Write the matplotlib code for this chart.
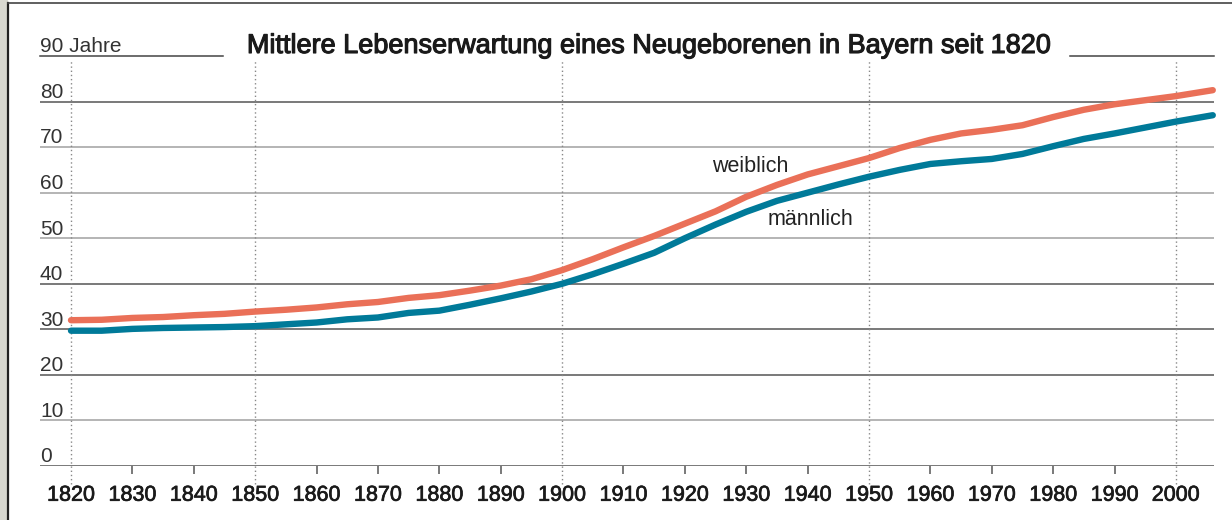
import matplotlib
matplotlib.use("Agg")
import matplotlib.pyplot as plt
from matplotlib.lines import Line2D
from matplotlib.patches import Rectangle
import matplotlib.transforms as mtransforms
import matplotlib.patheffects as pe

plt.rcParams['font.family'] = ['Liberation Sans', 'DejaVu Sans']

# data
years = [1820, 1825, 1830, 1835, 1840, 1845, 1850, 1855, 1860, 1865,
         1870, 1875, 1880, 1885, 1890, 1895, 1900, 1905, 1910, 1915,
         1920, 1925, 1930, 1935, 1940, 1945, 1950, 1955, 1960, 1965,
         1970, 1975, 1980, 1985, 1990, 1995, 2000, 2006]
weiblich = [32.0, 32.1, 32.5, 32.7, 33.1, 33.4, 33.9, 34.3, 34.8, 35.5,
            36.0, 36.9, 37.5, 38.5, 39.6, 41.0, 43.0, 45.4, 48.0, 50.5,
            53.2, 55.9, 59.1, 61.7, 64.0, 65.8, 67.6, 69.8, 71.6, 73.0,
            73.8, 74.8, 76.6, 78.2, 79.4, 80.3, 81.2, 82.5]
maennlich = [29.7, 29.7, 30.1, 30.3, 30.4, 30.5, 30.7, 31.1, 31.5, 32.2,
             32.6, 33.6, 34.1, 35.4, 36.8, 38.3, 40.0, 42.1, 44.4, 46.8,
             50.0, 53.0, 55.8, 58.2, 60.0, 61.8, 63.5, 65.0, 66.3, 66.9,
             67.4, 68.5, 70.2, 71.8, 73.0, 74.3, 75.6, 77.0]
decades = list(range(1820, 2001, 10))
marked_years = [1820, 1850, 1900, 1950, 2000]
y_levels = [0, 10, 20, 30, 40, 50, 60, 70, 80, 90]
y_labels = ['0', '10', '20', '30', '40', '50', '60', '70', '80', '90 Jahre']
title = 'Mittlere Lebenserwartung eines Neugeborenen in Bayern seit 1820'

W, H = 1232, 520
fig = plt.figure(figsize=(W / 100, H / 100), dpi=100)
ax = fig.add_axes([40 / W, 1 - 466 / H, 1174 / W, 410 / H])
ax.set_xlim(1814.95, 2006.2)
ax.set_ylim(0, 90)
for s in ax.spines.values():
    s.set_visible(False)
ax.set_yticks([])

# scanned frame edges
fig.add_artist(Rectangle((0, 0), 7 / W, 1, transform=fig.transFigure,
                         color='#d8d8d0', zorder=0))
fig.add_artist(Line2D([8 / W, 8 / W], [0, 1 - 3 / H], transform=fig.transFigure,
                      color='#222222', lw=1.6))
fig.add_artist(Line2D([8 / W, 1], [1 - 3 / H, 1 - 3 / H], transform=fig.transFigure,
                      color='#444444', lw=1.2))

# horizontal grid
dark = [0, 20, 30, 40, 80]
for v in y_levels[:-1]:
    ax.axhline(v, color='#555555' if v in dark else '#a0a0a0', lw=1.1, zorder=1)
ax.axhline(90, xmin=0, xmax=183 / 1174, color='#444444', lw=1.1, clip_on=False)
ax.axhline(90, xmin=1030 / 1174, xmax=1, color='#444444', lw=1.1, clip_on=False)

ytr = mtransforms.blended_transform_factory(ax.transAxes, ax.transData)
for v, lab in zip(y_levels, y_labels):
    ax.text(0, v + 0.8, lab, transform=ytr, ha='left', va='baseline',
            fontsize=15, color='#333333')

# dotted verticals
ax.vlines(marked_years, -4, 89.3, colors='#888888', linestyles=(0, (1, 2)),
          lw=1.0, clip_on=False, zorder=1)
small = [d for d in decades if d not in marked_years]
ax.vlines(small, -1.8, 0, colors='#555555', lw=1.1, clip_on=False)

ax.set_xticks(decades)
ax.set_xticklabels([str(d) for d in decades])
ax.tick_params(axis='x', length=0, pad=13.5, labelsize=15.5, labelcolor='#1a1a1a')
for lab in ax.get_xticklabels():
    lab.set_path_effects([pe.withStroke(linewidth=0.5, foreground='#1a1a1a')])

ax.plot(years, weiblich, color='#EA7058', lw=4.6, solid_capstyle='round',
        clip_on=False, zorder=3)
ax.plot(years, maennlich, color='#007A99', lw=4.6, solid_capstyle='round',
        clip_on=False, zorder=3)

ax.text(1930.6, 65.8, 'weiblich', fontsize=15.5, color='#222222', ha='center', va='center')
ax.text(1940.5, 54.2, 'männlich', fontsize=15.5, color='#222222', ha='center', va='center')

fig.text(650 / W, 1 - 46 / H, title, fontsize=19.5, color='#1a1a1a',
         ha='center', va='center',
         path_effects=[pe.withStroke(linewidth=0.8, foreground='#1a1a1a')])

fig.savefig('out.png', dpi=100)
